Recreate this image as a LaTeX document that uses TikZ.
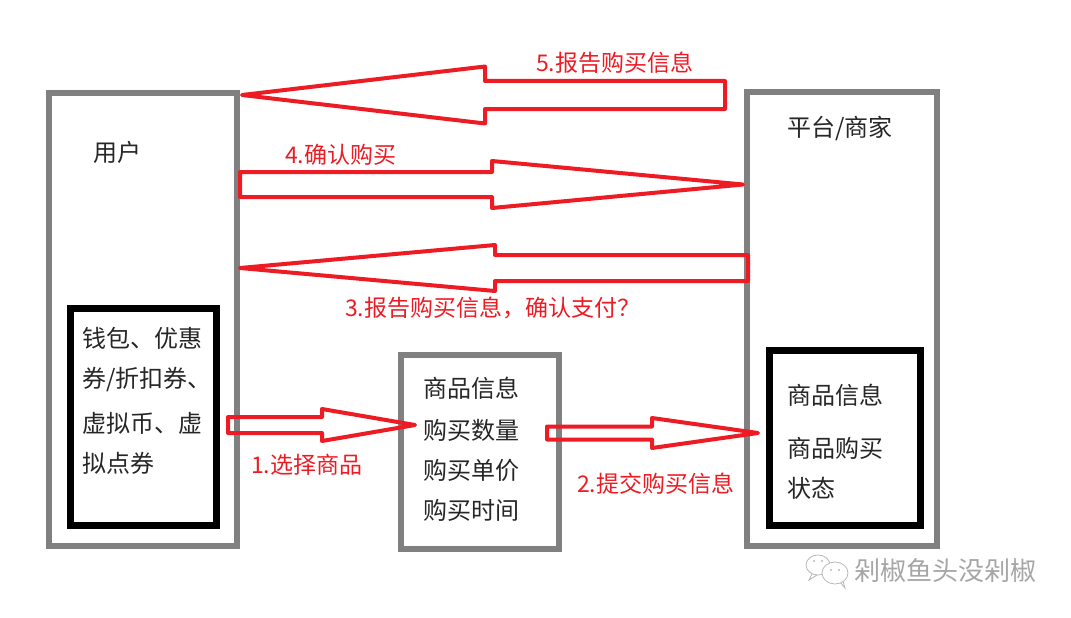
\documentclass[tikz,border=0pt]{standalone}
\usepackage{fontspec}
\setmainfont{Noto Sans CJK SC}
\usetikzlibrary{calc}
\definecolor{pred}{HTML}{ED1C24}
\definecolor{pgray}{HTML}{808080}
\tikzset{
  graybox/.style={draw=pgray, line width=6pt, rectangle, inner sep=0pt, outer sep=0pt},
  blackbox/.style={draw=black, line width=7pt, rectangle, inner sep=0pt, outer sep=0pt},
  bodytext/.style={anchor=west, inner sep=0pt, font=\fontsize{24}{28}\selectfont, text=black!85},
  redlabel/.style={anchor=west, inner sep=0pt, font=\fontsize{23}{27}\selectfont, text=pred},
  redarrow/.style={draw=pred, line width=4pt, line join=round},
  wmark/.style={draw=gray!55, line width=0.8pt, fill=white},
}
% #1 tail, #2 tip, #3 shaft half width, #4 head half width, #5 head base offset from tip
\newcommand\hollowarrow[5]{%
  \draw[redarrow] let \p1=(#1), \p2=(#2) in
    (\x1,\y2+#3) -- (\x2+#5,\y2+#3) -- (\x2+#5,\y2+#4) -- (\x2,\y2)
    -- (\x2+#5,\y2-#4) -- (\x2+#5,\y2-#3) -- (\x1,\y2-#3) -- cycle;}
\begin{document}
\begin{tikzpicture}[x=1pt,y=-1pt]
\useasboundingbox (0,0) rectangle (1071,618);
\fill[white] (0,0) rectangle (1071,618);

% boxes
\node[graybox, minimum width=188pt, minimum height=453pt] (user) at (143,319.5) {};
\node[blackbox, minimum width=145.5pt, minimum height=217.5pt] (wallet) at (143.25,416.75) {};
\node[graybox, minimum width=158pt, minimum height=194pt] (mid) at (480,452) {};
\node[graybox, minimum width=190pt, minimum height=454pt] (plat) at (842,319) {};
\node[blackbox, minimum width=150.5pt, minimum height=174.5pt] (pinfo) at (844.75,437.75) {};

% texts
\node[bodytext] (tuser) at (93,152) {用户};
\node[bodytext] (w1) at (82,338) {钱包、优惠};
\node[bodytext] (w2) at (82,380) {券/折扣券、};
\node[bodytext] (w3) at (82,423) {虚拟币、虚};
\node[bodytext] (w4) at (82,463) {拟点券};
\node[bodytext] (m1) at (423,388) {商品信息};
\node[bodytext] (m2) at (423,430) {购买数量};
\node[bodytext] (m3) at (423,470) {购买单价};
\node[bodytext] (m4) at (423,510) {购买时间};
\node[bodytext] (tplat) at (787,128) {平台/商家};
\node[bodytext] (p1) at (787,395) {商品信息};
\node[bodytext] (p2) at (787,448) {商品购买};
\node[bodytext] (p3) at (787,488) {状态};

% arrow end points
\coordinate (a5tail) at ([xshift=-22pt]plat.west |- 0,95);
\coordinate (a5tip)  at ([xshift=5pt]user.east |- 0,95);
\coordinate (a4tail) at ([xshift=3pt]user.east |- 0,184.5);
\coordinate (a4tip)  at ([xshift=-4pt]plat.west |- 0,184.5);
\coordinate (a3tail) at ([xshift=1pt]plat.west |- 0,268);
\coordinate (a3tip)  at ([xshift=3pt]user.east |- 0,268);
\coordinate (a1tail) at ([xshift=12pt]wallet.east |- 0,425);
\coordinate (a1tip)  at ([xshift=14pt]mid.west |- 0,425);
\coordinate (a2tail) at ([xshift=-12pt]mid.east |- 0,433);
\coordinate (a2tip)  at ([xshift=11pt]plat.west |- 0,433);

\hollowarrow{a5tail}{a5tip}{14pt}{28.5pt}{243pt}
\hollowarrow{a4tail}{a4tip}{12.5pt}{23.5pt}{-251pt}
\hollowarrow{a3tail}{a3tip}{13pt}{23pt}{255pt}
\hollowarrow{a1tail}{a1tip}{8pt}{16pt}{-93pt}
\hollowarrow{a2tail}{a2tip}{6.5pt}{15pt}{-106pt}

% red labels
\node[redlabel] (l5) at (536,63) {5.报告购买信息};
\node[redlabel] (l4) at (285,155) {4.确认购买};
\node[redlabel] (l3) at (345,308) {3.报告购买信息，确认支付？};
\node[redlabel] (l1) at (251,465) {1.选择商品};
\node[redlabel] (l2) at (577,484) {2.提交购买信息};

% watermark
\draw[wmark] (812,574) -- (809,580) -- (817,575);
\draw[wmark] (818,565) ellipse [x radius=12, y radius=10];
\fill[gray!55] (814,561) circle (1.2) (822,561) circle (1.2);
\draw[wmark] (840,582) -- (845,588) -- (843,581);
\draw[wmark] (835,573) ellipse [x radius=13, y radius=11];
\fill[gray!55] (831,570) circle (1.2) (839,570) circle (1.2);
\node[anchor=west, inner sep=0pt, font=\fontsize{26}{29}\selectfont, text=gray!70] (wm) at (854,571) {剁椒鱼头没剁椒};
\end{tikzpicture}
\end{document}
